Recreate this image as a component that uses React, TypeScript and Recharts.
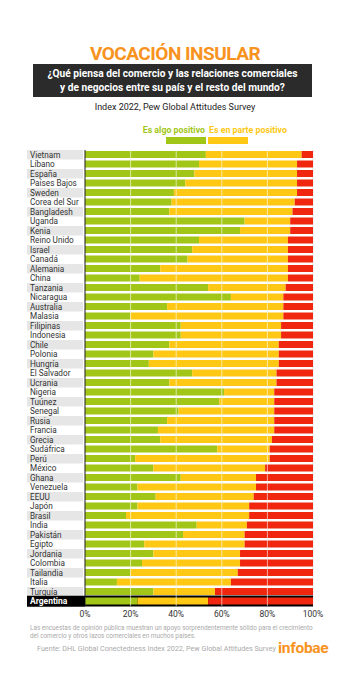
import React from "react";
import { BarChart, Bar, XAxis, YAxis, CartesianGrid, ReferenceLine } from "recharts";

const countries = ["Vietnam","Líbano","España","Países Bajos","Sweden","Corea del Sur","Bangladesh","Uganda","Kenia","Reino Unido","Israel","Canadá","Alemania","China","Tanzania","Nicaragua","Australia","Malasia","Filipinas","Indonesia","Chile","Polonia","Hungría","El Salvador","Ucrania","Nigeria","Tuúnez","Senegal","Rusia","Francia","Grecia","Sudáfrica","Perú","México","Ghana","Venezuela","EEUU","Japón","Brasil","India","Pakistán","Egipto","Jordania","Colombia","Tailandia","Italia","Turquía","Argentina"];
const algoPositivo = [53,50,48,44,39,38,37,70,68,50,47,45,33,24,54,64,36,20,42,42,37,30,28,47,37,61,59,41,36,32,33,58,22,30,42,23,31,23,18,49,43,26,30,25,20,14,30,23];
const enPartePositivo = [42,43,45,49,54,54,54,20,22,39,42,44,56,65,34,23,51,67,44,44,48,55,57,37,47,22,24,42,47,51,49,23,59,49,33,52,43,49,54,22,27,44,38,43,47,50,27,31];
const resto = [5,7,7,7,7,8,9,10,10,11,11,11,11,11,12,13,13,13,14,14,15,15,15,16,16,17,17,17,17,17,18,19,19,21,25,25,26,28,28,29,30,30,32,32,33,36,43,46];
const xTicks = [0,20,40,60,80,100];

const data = countries.map((name, i) => ({ name, a: algoPositivo[i], b: enPartePositivo[i], c: resto[i] }));

const GREEN = "#a2c617";
const YELLOW = "#fec814";
const RED = "#f0260e";
const ORANGE = "#f7931e";
const FONT = "Roboto, 'Noto Sans', sans-serif";

const CountryTick = (props: any) => {
  const { y, payload, index } = props;
  const isArg = payload.value === "Argentina";
  if (isArg) {
    return (
      <g>
        <rect x={27} y={y - 5.5} width={58} height={11} fill="#000" />
        <text x={30} y={y} dy="0.35em" fill="#fff" fontSize={8.5} fontWeight={700} fontFamily={FONT}>{payload.value}</text>
      </g>
    );
  }
  return (
    <g>
      {index % 2 === 0 && <rect x={27} y={y - 4.75} width={56} height={9.5} fill="#e6e6e6" />}
      <text x={30} y={y} dy="0.35em" fill="#333" fontSize={8.2} fontFamily={FONT}>{payload.value}</text>
    </g>
  );
};

const ArgBackground = (props: any) => {
  const { x, y, width, height, payload, index } = props;
  if ((payload && payload.name === "Argentina") || index === countries.length - 1) {
    return <rect x={x} y={y - (11 - height) / 2} width={width} height={11} fill="#000" />;
  }
  return <g />;
};

const abs = (s: React.CSSProperties): React.CSSProperties => ({ position: "absolute", whiteSpace: "nowrap", fontFamily: FONT, ...s });

export default function App() {
  return (
    <div style={{ position: "absolute", left: 0, top: 0, width: 350, height: 699, background: "#fff", overflow: "hidden" }}>
      <div style={abs({ left: 0, width: 350, top: 43, textAlign: "center", color: ORANGE, fontWeight: 700, fontSize: 19, lineHeight: "22px", letterSpacing: -0.5 })}>VOCACIÓN INSULAR</div>
      <div style={abs({ left: 33, width: 279, top: 64, height: 33, background: "#2b2b2b", color: "#fff", fontWeight: 700, fontSize: 10.2, lineHeight: "13.5px", textAlign: "center", paddingTop: 3, boxSizing: "border-box" })}>
        ¿Qué piensa del comercio y las relaciones comerciales<br />y de negocios entre su país y el resto del mundo?
      </div>
      <div style={abs({ left: 0, width: 350, top: 101, textAlign: "center", color: "#222", fontSize: 9, lineHeight: "12px" })}>Index 2022, Pew Global Attitudes Survey</div>
      <div style={abs({ right: 350 - 205, top: 124, color: GREEN, fontWeight: 700, fontSize: 8.8, lineHeight: "12px" })}>Es algo positivo</div>
      <div style={abs({ left: 209, top: 124, color: YELLOW, fontWeight: 700, fontSize: 8.8, lineHeight: "12px" })}>Es en parte positivo</div>
      <div style={abs({ left: 166, top: 137, width: 40, height: 7, background: GREEN })} />
      <div style={abs({ left: 208, top: 137, width: 40, height: 7, background: YELLOW })} />

      <div style={{ position: "absolute", left: 0, top: 140 }}>
        <BarChart width={350} height={486} data={data} layout="vertical" margin={{ top: 10, right: 37, left: 0, bottom: 0 }} barSize={7}>
          <CartesianGrid horizontal={false} vertical={true} stroke="#e8e8e8" />
          <XAxis type="number" domain={[0, 100]} ticks={xTicks} tickFormatter={(v: number) => `${v}%`} axisLine={false} tickLine={false} tickSize={0} tickMargin={5} height={20} interval={0} tick={{ fontSize: 8.5, fill: "#333", fontFamily: FONT }} />
          <YAxis type="category" dataKey="name" width={85} interval={0} tickLine={false} axisLine={{ stroke: "#222", strokeWidth: 1 }} tick={<CountryTick />} />
          <Bar dataKey="a" stackId="s" fill={GREEN} isAnimationActive={false} background={<ArgBackground />} />
          <Bar dataKey="b" stackId="s" fill={YELLOW} isAnimationActive={false} />
          <Bar dataKey="c" stackId="s" fill={RED} isAnimationActive={false} />
          {[20, 40, 60, 80].map((v) => (
            <ReferenceLine key={v} x={v} stroke="#ffffff" strokeOpacity={0.6} strokeWidth={1} zIndex={1000} />
          ))}
        </BarChart>
      </div>

      <div style={abs({ left: 30, top: 624, color: "#aaa", fontSize: 6.4, lineHeight: "8px" })}>
        Las encuestas de opinión pública muestran un apoyo sorprendentemente sólido para el crecimiento<br />del comercio y otros lazos comerciales en muchos países.
      </div>
      <div style={abs({ left: 37, top: 644, color: "#aaa", fontSize: 7.2, lineHeight: "10px" })}>Fuente: DHL Global Conectedness Index 2022, Pew Global Attitudes Survey</div>
      <div style={abs({ left: 278, top: 639, color: ORANGE, fontWeight: 700, fontSize: 15.5, lineHeight: "18px", letterSpacing: -0.3 })}>infobae</div>
    </div>
  );
}
